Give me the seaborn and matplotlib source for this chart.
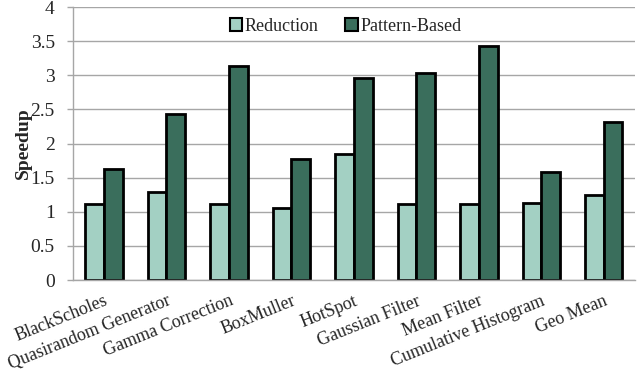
import matplotlib
matplotlib.use("Agg")
import matplotlib.pyplot as plt
import seaborn as sns
import pandas as pd

categories = ["BlackScholes", "Quasirandom Generator", "Gamma Correction", "BoxMuller",
              "HotSpot", "Gaussian Filter", "Mean Filter", "Cumulative Histogram", "Geo Mean"]
reduction = [1.11, 1.29, 1.11, 1.06, 1.84, 1.11, 1.11, 1.13, 1.25]
pattern_based = [1.63, 2.43, 3.13, 1.78, 2.96, 3.04, 3.43, 1.59, 2.31]
series_names = ["Reduction", "Pattern-Based"]
y_ticks = [0, 0.5, 1, 1.5, 2, 2.5, 3, 3.5, 4]
y_tick_labels = ["0", "0.5", "1", "1.5", "2", "2.5", "3", "3.5", "4"]

df = pd.DataFrame({
    "category": categories * 2,
    "series": [series_names[0]] * len(categories) + [series_names[1]] * len(categories),
    "value": reduction + pattern_based,
})

sns.set_theme(style="white")
plt.rcParams["font.family"] = ["Liberation Serif", "DejaVu Serif"]

fig = plt.figure(figsize=(6.44, 3.89), dpi=100)
ax = fig.add_axes([0.113, 0.28, 0.873, 0.702])

sns.barplot(data=df, x="category", y="value", hue="series",
            palette=["#A3D0C3", "#3A6E5C"], width=0.6, ax=ax,
            edgecolor="black", linewidth=2, errorbar=None, saturation=1)

ax.set_ylim(0, 4)
ax.set_yticks(y_ticks)
ax.set_yticklabels(y_tick_labels, fontsize=14)
ax.yaxis.grid(True, color="#A6A6A6", linewidth=1)
ax.set_axisbelow(True)
ax.set_xlim(-0.5, len(categories) - 0.5)
ax.set_xlabel("")
ax.set_ylabel("Speedup", fontsize=14, fontweight="bold", labelpad=-1)
ax.set_xticks(range(len(categories)))
ax.set_xticklabels(categories, rotation=22, ha="right", rotation_mode="anchor", fontsize=13)
ax.tick_params(axis="x", length=0, pad=9)
ax.tick_params(axis="y", length=4, width=1, color="#A6A6A6", pad=9, direction="out", left=True)
for s in ["top", "right"]:
    ax.spines[s].set_visible(False)
for s in ["left", "bottom"]:
    ax.spines[s].set_color("#A6A6A6")
    ax.spines[s].set_linewidth(1)

leg = ax.legend(loc="upper center", bbox_to_anchor=(0.485, 1.0), ncol=2, frameon=False,
                fontsize=13, handlelength=0.7, handleheight=0.7, handletextpad=0.12,
                columnspacing=1.5, borderaxespad=0.2)
for h in leg.legend_handles:
    h.set_edgecolor("black")
    h.set_linewidth(1.5)

fig.savefig("out.png", dpi=100)
